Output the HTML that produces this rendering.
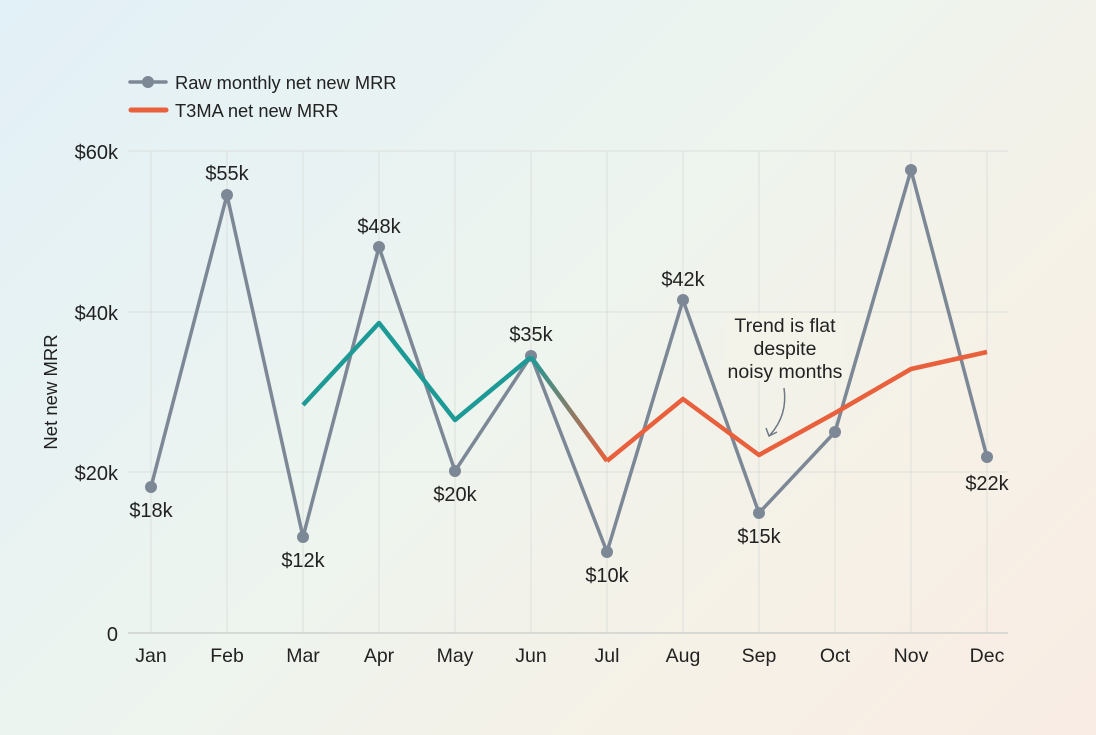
<!DOCTYPE html>
<html><head><meta charset="utf-8"><style>
html,body{margin:0;padding:0;width:1096px;height:735px;overflow:hidden}
body{background:linear-gradient(135deg,#e2f0f7 0%,#edf4ef 45%,#f6f1e6 75%,#f9ece4 100%);font-family:"Liberation Sans",sans-serif}
</style></head><body>
<svg width="1096" height="735" viewBox="0 0 1096 735" xmlns="http://www.w3.org/2000/svg" font-family="Liberation Sans, sans-serif">
<defs>
<linearGradient id="tr" x1="531" y1="0" x2="607" y2="0" gradientUnits="userSpaceOnUse">
<stop offset="0" stop-color="#1d9a96"/><stop offset="1" stop-color="#e8603c"/></linearGradient>
</defs>
<g stroke="#dcdfdc" stroke-width="1">
<line x1="128" y1="151" x2="1008" y2="151"/><line x1="128" y1="312" x2="1008" y2="312"/><line x1="128" y1="472" x2="1008" y2="472"/>
<line x1="151" y1="151" x2="151" y2="633"/><line x1="227" y1="151" x2="227" y2="633"/><line x1="303" y1="151" x2="303" y2="633"/><line x1="379" y1="151" x2="379" y2="633"/><line x1="455" y1="151" x2="455" y2="633"/><line x1="531" y1="151" x2="531" y2="633"/><line x1="607" y1="151" x2="607" y2="633"/><line x1="683" y1="151" x2="683" y2="633"/><line x1="759" y1="151" x2="759" y2="633"/><line x1="835" y1="151" x2="835" y2="633"/><line x1="911" y1="151" x2="911" y2="633"/><line x1="987" y1="151" x2="987" y2="633"/>
</g>
<line x1="128" y1="633" x2="1008" y2="633" stroke="#c8cbc8" stroke-width="1.2"/>
<g font-size="20" fill="#222" text-anchor="end">
<text x="118" y="159">$60k</text><text x="118" y="320">$40k</text><text x="118" y="480">$20k</text><text x="118" y="641">0</text></g>
<text transform="translate(57,392) rotate(-90)" font-size="18.5" fill="#222" text-anchor="middle">Net new MRR</text>
<g font-size="19.5" fill="#222" text-anchor="middle">
<text x="151" y="662">Jan</text><text x="227" y="662">Feb</text><text x="303" y="662">Mar</text><text x="379" y="662">Apr</text><text x="455" y="662">May</text><text x="531" y="662">Jun</text><text x="607" y="662">Jul</text><text x="683" y="662">Aug</text><text x="759" y="662">Sep</text><text x="835" y="662">Oct</text><text x="911" y="662">Nov</text><text x="987" y="662">Dec</text></g>
<!-- annotation -->
<rect x="726" y="313" width="120" height="68" fill="#f3f3ea" opacity="0.9"/>
<g font-size="19.5" fill="#222" text-anchor="middle">
<text x="785" y="332">Trend is flat</text><text x="785" y="355">despite</text><text x="785" y="378">noisy months</text></g>
<path d="M784,388 Q788,415 770,435" fill="none" stroke="#6e7886" stroke-width="1.5"/>
<path d="M766,428 L769,436 L777,432" fill="none" stroke="#6e7886" stroke-width="1.5"/>
<!-- raw -->
<polyline points="151,487 227,195 303,537 379,247 455,471 531,356 607,552 683,300 759,513 835,432 911,170 987,457" fill="none" stroke="#7d8896" stroke-width="3.5" stroke-linejoin="round"/>
<g fill="#7d8896">
<circle cx="151" cy="487" r="6"/><circle cx="227" cy="195" r="6"/><circle cx="303" cy="537" r="6"/><circle cx="379" cy="247" r="6"/><circle cx="455" cy="471" r="6"/><circle cx="531" cy="356" r="6"/><circle cx="607" cy="552" r="6"/><circle cx="683" cy="300" r="6"/><circle cx="759" cy="513" r="6"/><circle cx="835" cy="432" r="6"/><circle cx="911" cy="170" r="6"/><circle cx="987" cy="457" r="6"/></g>
<!-- trend -->
<polyline points="303,405 379,323 455,420 531,357" fill="none" stroke="#1d9a96" stroke-width="4.5" stroke-linejoin="round"/>
<line x1="531" y1="357" x2="607" y2="461" stroke="url(#tr)" stroke-width="4.5"/>
<polyline points="607,461 683,399 759,455 835,413 911,369 987,352" fill="none" stroke="#e8603c" stroke-width="4.5" stroke-linejoin="round"/>
<!-- labels -->
<g font-size="20" fill="#222" text-anchor="middle">
<text x="151" y="517">$18k</text><text x="227" y="180">$55k</text><text x="303" y="567">$12k</text><text x="379" y="233">$48k</text><text x="455" y="501">$20k</text><text x="531" y="341">$35k</text><text x="607" y="582">$10k</text><text x="683" y="286">$42k</text><text x="759" y="543">$15k</text><text x="987" y="490">$22k</text></g>
<!-- legend -->
<line x1="130" y1="82" x2="166" y2="82" stroke="#7d8896" stroke-width="3.5" stroke-linecap="round"/>
<circle cx="148" cy="82" r="6" fill="#7d8896"/>
<text x="175" y="89" font-size="18.3" fill="#222">Raw monthly net new MRR</text>
<line x1="131" y1="110" x2="166" y2="110" stroke="#e8603c" stroke-width="5" stroke-linecap="round"/>
<text x="175" y="117" font-size="18.3" fill="#222">T3MA net new MRR</text>
</svg>
</body></html>
